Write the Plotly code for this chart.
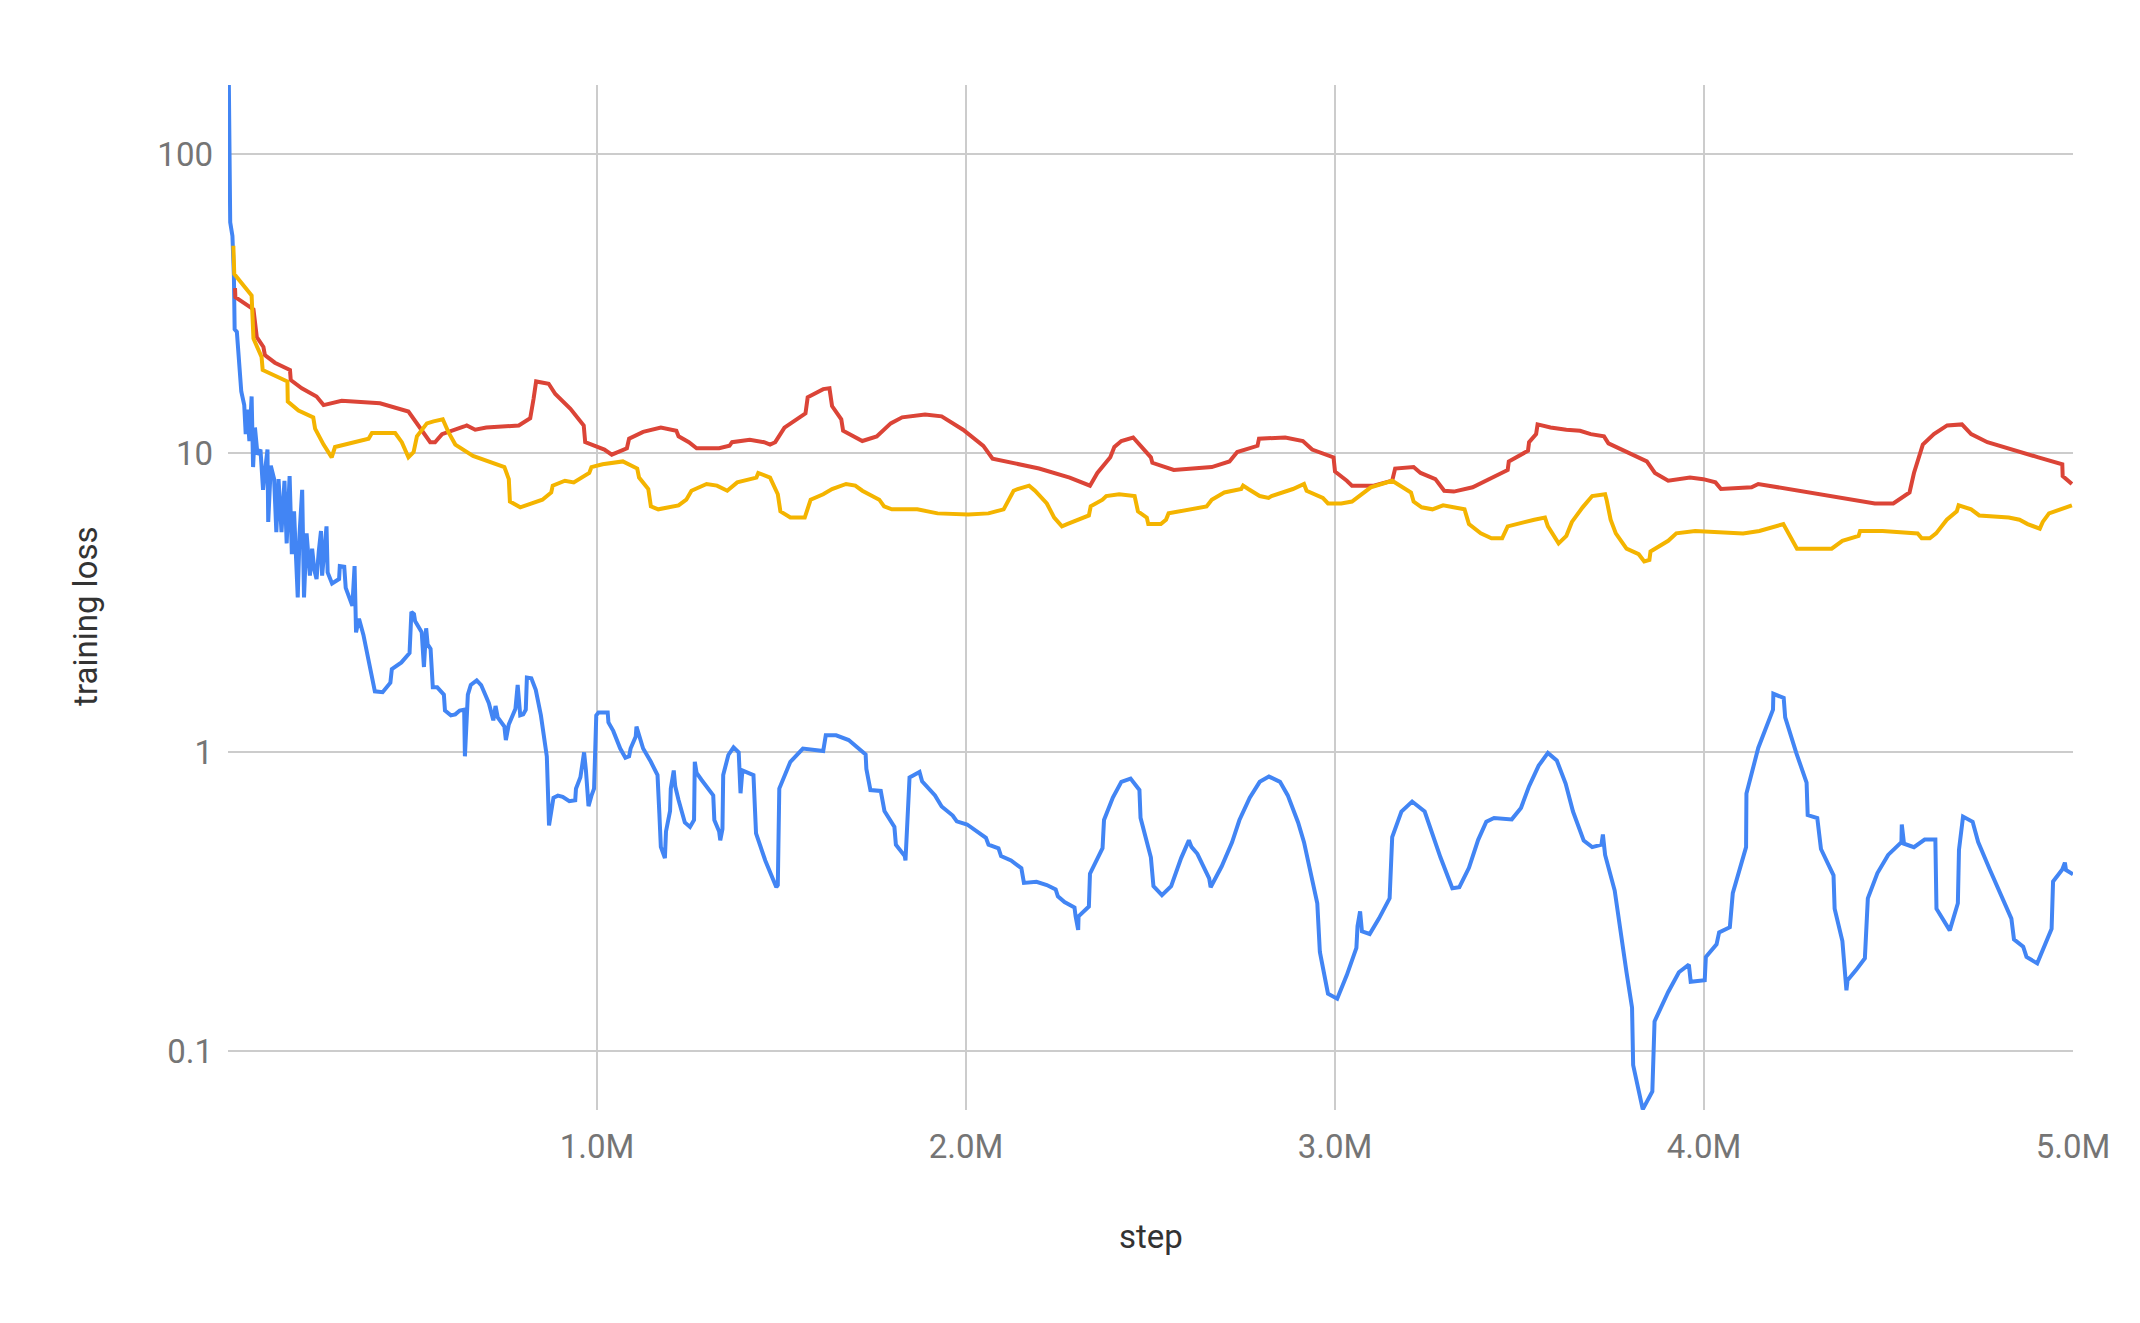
import plotly.graph_objects as go

# ---- data (steps in millions, training loss) ----
blue_step = [0.001, 0.004, 0.006, 0.012, 0.016, 0.018, 0.024, 0.028, 0.036, 0.044, 0.048, 0.052, 0.058, 0.064,
             0.068, 0.073, 0.080, 0.088, 0.095, 0.100, 0.107, 0.109, 0.116, 0.125, 0.131, 0.137, 0.145, 0.153,
             0.159, 0.167, 0.173, 0.179, 0.189, 0.194, 0.201, 0.206, 0.213, 0.222, 0.228, 0.234, 0.240, 0.246,
             0.252, 0.255, 0.267, 0.270, 0.282, 0.301, 0.303, 0.315, 0.319, 0.337, 0.343, 0.347, 0.355, 0.367,
             0.383, 0.392, 0.398, 0.419, 0.440, 0.444, 0.470, 0.492, 0.497, 0.504, 0.507, 0.525, 0.531, 0.537,
             0.541, 0.549, 0.555, 0.567, 0.585, 0.588, 0.604, 0.616, 0.628, 0.640, 0.642, 0.650, 0.658, 0.674,
             0.686, 0.707, 0.719, 0.725, 0.731, 0.749, 0.753, 0.761, 0.779, 0.785, 0.792, 0.800, 0.807, 0.810,
             0.822, 0.834, 0.848, 0.864, 0.867, 0.870, 0.882, 0.894, 0.907, 0.925, 0.941, 0.943, 0.955, 0.965,
             0.970, 0.977, 0.985, 0.992, 0.998, 1.004, 1.029, 1.031, 1.044, 1.063, 1.077, 1.087, 1.091, 1.105,
             1.107, 1.125, 1.146, 1.164, 1.169, 1.173, 1.184, 1.187, 1.198, 1.200, 1.208, 1.212, 1.221, 1.238,
             1.252, 1.263, 1.265, 1.270, 1.283, 1.297, 1.315, 1.318, 1.331, 1.334, 1.340, 1.342, 1.356, 1.370,
             1.384, 1.389, 1.394, 1.424, 1.428, 1.431, 1.456, 1.486, 1.490, 1.494, 1.524, 1.558, 1.613, 1.620,
             1.648, 1.682, 1.728, 1.730, 1.741, 1.769, 1.779, 1.806, 1.810, 1.834, 1.836, 1.843, 1.847, 1.874,
             1.881, 1.916, 1.934, 1.964, 1.975, 2.003, 2.054, 2.061, 2.088, 2.095, 2.122, 2.150, 2.157, 2.191,
             2.219, 2.243, 2.249, 2.267, 2.294, 2.297, 2.304, 2.305, 2.333, 2.336, 2.370, 2.374, 2.398, 2.421,
             2.446, 2.470, 2.473, 2.501, 2.508, 2.531, 2.556, 2.583, 2.604, 2.611, 2.627, 2.659, 2.663, 2.693,
             2.721, 2.741, 2.769, 2.796, 2.821, 2.851, 2.872, 2.900, 2.916, 2.952, 2.959, 2.981, 3.006, 3.032,
             3.058, 3.061, 3.068, 3.073, 3.094, 3.119, 3.148, 3.155, 3.180, 3.209, 3.243, 3.286, 3.318, 3.337,
             3.363, 3.388, 3.410, 3.431, 3.479, 3.504, 3.526, 3.552, 3.577, 3.601, 3.625, 3.645, 3.674, 3.697,
             3.722, 3.726, 3.732, 3.758, 3.773, 3.790, 3.805, 3.808, 3.834, 3.860, 3.866, 3.903, 3.932, 3.959,
             3.964, 4.002, 4.005, 4.034, 4.041, 4.070, 4.078, 4.114, 4.115, 4.147, 4.187, 4.188, 4.216, 4.220,
             4.250, 4.278, 4.281, 4.307, 4.317, 4.351, 4.354, 4.375, 4.386, 4.389, 4.412, 4.436, 4.444, 4.470,
             4.499, 4.535, 4.536, 4.542, 4.569, 4.598, 4.627, 4.630, 4.666, 4.688, 4.691, 4.702, 4.728, 4.743,
             4.775, 4.804, 4.833, 4.840, 4.865, 4.874, 4.903, 4.942, 4.946, 4.971, 4.978, 4.981, 5.000]
blue_loss = [250, 80.5, 59.2, 53.4, 39.2, 26.0, 25.5, 21.9, 16.1, 14.5, 11.6, 14.0, 11.0, 15.5,
             9.0, 12.2, 9.9, 10.3, 7.55, 8.65, 10.3, 5.9, 9.1, 8.2, 5.45, 8.2, 5.45, 8.1,
             5.0, 8.4, 4.6, 6.4, 3.3, 5.4, 7.55, 3.3, 5.4, 3.9, 4.8, 4.07, 3.8, 4.7,
             5.5, 3.9, 5.7, 4.0, 3.67, 3.8, 4.2, 4.18, 3.55, 3.09, 4.2, 2.52, 2.8, 2.47,
             1.96, 1.77, 1.6, 1.59, 1.71, 1.9, 2.0, 2.15, 2.95, 2.9, 2.75, 2.52, 1.93, 2.6,
             2.3, 2.22, 1.65, 1.65, 1.56, 1.38, 1.33, 1.34, 1.38, 1.39, 0.97, 1.56, 1.68, 1.74,
             1.68, 1.46, 1.28, 1.43, 1.31, 1.22, 1.10, 1.24, 1.40, 1.68, 1.33, 1.34, 1.39, 1.78,
             1.77, 1.62, 1.33, 0.97, 0.61, 0.57, 0.705, 0.717, 0.71, 0.687, 0.692, 0.756, 0.826, 1.0,
             0.871, 0.661, 0.717, 0.756, 1.33, 1.36, 1.36, 1.26, 1.18, 1.03, 0.96, 0.97, 1.03, 1.13,
             1.22, 1.03, 0.93, 0.84, 0.625, 0.483, 0.443, 0.544, 0.637, 0.757, 0.87, 0.77, 0.693, 0.583,
             0.563, 0.594, 0.93, 0.853, 0.81, 0.77, 0.718, 0.594, 0.544, 0.508, 0.554, 0.84, 0.98, 1.04,
             1.0, 0.73, 0.87, 0.84, 0.67, 0.536, 0.435, 0.354, 0.36, 0.757, 0.93, 1.03, 1.01, 1.14,
             1.14, 1.10, 0.985, 0.88, 0.748, 0.743, 0.637, 0.563, 0.491, 0.45, 0.435, 0.637, 0.824, 0.86,
             0.80, 0.718, 0.659, 0.615, 0.588, 0.574, 0.518, 0.491, 0.478, 0.45, 0.435, 0.41, 0.366, 0.369,
             0.36, 0.348, 0.33, 0.316, 0.303, 0.283, 0.255, 0.283, 0.305, 0.393, 0.478, 0.594, 0.706, 0.797,
             0.817, 0.748, 0.604, 0.446, 0.357, 0.333, 0.357, 0.443, 0.508, 0.483, 0.458, 0.379, 0.354, 0.416,
             0.50, 0.594, 0.706, 0.797, 0.83, 0.797, 0.718, 0.583, 0.501, 0.313, 0.215, 0.156, 0.15, 0.18,
             0.222, 0.262, 0.294, 0.252, 0.247, 0.278, 0.325, 0.521, 0.634, 0.685, 0.634, 0.445, 0.351, 0.354,
             0.411, 0.51, 0.586, 0.603, 0.597, 0.652, 0.771, 0.903, 0.996, 0.94, 0.787, 0.634, 0.507, 0.482,
             0.491, 0.531, 0.454, 0.345, 0.252, 0.184, 0.14, 0.090, 0.064, 0.0734, 0.126, 0.158, 0.184, 0.195,
             0.171, 0.173, 0.207, 0.228, 0.25, 0.26, 0.338, 0.482, 0.728, 1.035, 1.39, 1.57, 1.52, 1.31,
             0.996, 0.793, 0.617, 0.603, 0.475, 0.388, 0.30, 0.234, 0.16, 0.173, 0.187, 0.205, 0.325, 0.395,
             0.454, 0.501, 0.574, 0.495, 0.482, 0.511, 0.511, 0.30, 0.254, 0.313, 0.472, 0.61, 0.586, 0.501,
             0.404, 0.338, 0.278, 0.237, 0.224, 0.207, 0.197, 0.257, 0.37, 0.406, 0.428, 0.404, 0.391]

red_step = [0.019, 0.020, 0.069, 0.078, 0.096, 0.100, 0.127, 0.168, 0.170, 0.200, 0.240, 0.259, 0.308, 0.412,
            0.489, 0.548, 0.561, 0.580, 0.640, 0.647, 0.670, 0.700, 0.788, 0.819, 0.828, 0.835, 0.869, 0.887,
            0.928, 0.964, 0.968, 1.000, 1.020, 1.040, 1.081, 1.087, 1.125, 1.173, 1.215, 1.221, 1.249, 1.270,
            1.331, 1.359, 1.366, 1.414, 1.453, 1.469, 1.483, 1.508, 1.565, 1.571, 1.613, 1.630, 1.637, 1.662,
            1.667, 1.719, 1.758, 1.796, 1.827, 1.889, 1.934, 1.992, 2.047, 2.072, 2.198, 2.281, 2.336, 2.356,
            2.391, 2.402, 2.421, 2.453, 2.473, 2.501, 2.505, 2.563, 2.666, 2.714, 2.735, 2.790, 2.794, 2.865,
            2.913, 2.938, 2.996, 3.000, 3.032, 3.046, 3.105, 3.155, 3.163, 3.213, 3.232, 3.272, 3.296, 3.322,
            3.373, 3.468, 3.471, 3.523, 3.526, 3.545, 3.549, 3.562, 3.584, 3.627, 3.664, 3.693, 3.729, 3.741,
            3.845, 3.867, 3.903, 3.962, 3.998, 4.031, 4.046, 4.129, 4.136, 4.147, 4.463, 4.513, 4.557, 4.569,
            4.593, 4.623, 4.659, 4.699, 4.724, 4.768, 4.906, 4.971, 4.972, 4.997]
red_loss = [35.7, 33.3, 30.3, 24.5, 22.7, 21.3, 20.1, 19.0, 17.6, 16.5, 15.5, 14.5, 15.0, 14.7,
            13.8, 10.9, 10.9, 11.6, 12.3, 12.4, 12.0, 12.2, 12.4, 13.1, 15.2, 17.4, 17.1, 15.8,
            14.1, 12.4, 10.9, 10.5, 10.3, 9.9, 10.4, 11.2, 11.8, 12.2, 11.9, 11.4, 10.9, 10.4,
            10.4, 10.6, 10.9, 11.1, 10.9, 10.7, 10.9, 12.2, 13.6, 15.4, 16.4, 16.5, 14.4, 13.0,
            11.9, 11.0, 11.4, 12.6, 13.2, 13.5, 13.3, 12.0, 10.6, 9.6, 8.9, 8.3, 7.8, 8.6,
            9.7, 10.5, 11.0, 11.3, 10.6, 9.7, 9.3, 8.8, 9.0, 9.4, 10.1, 10.6, 11.2, 11.3,
            11.0, 10.3, 9.7, 8.7, 8.1, 7.8, 7.8, 8.1, 8.9, 9.0, 8.6, 8.2, 7.5, 7.45,
            7.7, 8.8, 9.4, 10.2, 10.9, 11.6, 12.5, 12.4, 12.2, 12.0, 11.9, 11.6, 11.4, 10.8,
            9.4, 8.6, 8.1, 8.3, 8.2, 8.0, 7.6, 7.7, 7.8, 7.9, 6.8, 6.8, 7.4, 8.6,
            10.7, 11.6, 12.4, 12.5, 11.6, 10.9, 9.7, 9.2, 8.4, 7.9]

yellow_step = [0.0145, 0.017, 0.064, 0.069, 0.091, 0.094, 0.161, 0.162, 0.191, 0.231, 0.236, 0.259, 0.281,
               0.290, 0.381, 0.390, 0.453, 0.471, 0.489, 0.503, 0.512, 0.539, 0.557, 0.582, 0.597, 0.616,
               0.664, 0.749, 0.761, 0.764, 0.792, 0.852, 0.876, 0.880, 0.913, 0.937, 0.979, 0.985, 1.015,
               1.070, 1.109, 1.114, 1.139, 1.146, 1.166, 1.221, 1.242, 1.256, 1.297, 1.325, 1.353, 1.380,
               1.432, 1.437, 1.469, 1.490, 1.497, 1.524, 1.563, 1.579, 1.613, 1.637, 1.675, 1.700, 1.719,
               1.765, 1.778, 1.799, 1.868, 1.923, 2.006, 2.061, 2.102, 2.129, 2.140, 2.171, 2.187, 2.219,
               2.239, 2.260, 2.274, 2.333, 2.338, 2.370, 2.380, 2.415, 2.457, 2.466, 2.490, 2.494, 2.528,
               2.542, 2.549, 2.652, 2.666, 2.700, 2.746, 2.751, 2.765, 2.796, 2.820, 2.828, 2.886, 2.916,
               2.923, 2.967, 2.981, 3.017, 3.046, 3.097, 3.155, 3.206, 3.213, 3.235, 3.264, 3.293, 3.351,
               3.363, 3.395, 3.424, 3.453, 3.468, 3.540, 3.569, 3.577, 3.598, 3.606, 3.627, 3.642, 3.671,
               3.697, 3.732, 3.736, 3.747, 3.761, 3.790, 3.823, 3.838, 3.852, 3.855, 3.903, 3.925, 3.976,
               4.106, 4.150, 4.215, 4.225, 4.240, 4.252, 4.346, 4.375, 4.419, 4.423, 4.484, 4.579, 4.590,
               4.612, 4.629, 4.658, 4.685, 4.690, 4.724, 4.746, 4.826, 4.855, 4.877, 4.910, 4.918, 4.935,
               4.997]
yellow_loss = [49.5, 39.8, 33.7, 24.2, 21.0, 19.0, 17.4, 14.9, 13.9, 13.2, 12.1, 10.7, 9.7,
               10.5, 11.2, 11.7, 11.7, 10.9, 9.7, 10.1, 11.4, 12.6, 12.8, 13.0, 11.8, 10.7,
               9.8, 9.0, 8.2, 6.9, 6.6, 7.0, 7.4, 7.8, 8.1, 8.0, 8.6, 9.0, 9.2,
               9.4, 8.9, 8.3, 7.6, 6.65, 6.5, 6.7, 7.0, 7.5, 7.9, 7.8, 7.5, 8.0,
               8.3, 8.6, 8.3, 7.3, 6.4, 6.1, 6.1, 7.0, 7.3, 7.6, 7.9, 7.8, 7.5,
               7.0, 6.65, 6.5, 6.5, 6.3, 6.25, 6.3, 6.5, 7.5, 7.6, 7.8, 7.5, 6.8,
               6.1, 5.7, 5.8, 6.2, 6.65, 7.0, 7.2, 7.3, 7.2, 6.4, 6.1, 5.8, 5.8,
               6.0, 6.3, 6.65, 7.0, 7.4, 7.6, 7.8, 7.6, 7.2, 7.1, 7.2, 7.6, 7.9,
               7.5, 7.1, 6.8, 6.8, 6.9, 7.7, 8.1, 7.4, 6.9, 6.6, 6.5, 6.7, 6.5,
               5.8, 5.4, 5.2, 5.2, 5.7, 6.0, 6.1, 5.7, 5.2, 5.0, 5.3, 5.9, 6.6,
               7.2, 7.3, 7.0, 6.0, 5.4, 4.8, 4.6, 4.35, 4.4, 4.7, 5.1, 5.4, 5.5,
               5.4, 5.5, 5.8, 5.5, 5.05, 4.8, 4.8, 5.1, 5.3, 5.5, 5.5, 5.4, 5.2,
               5.2, 5.4, 6.0, 6.4, 6.7, 6.5, 6.2, 6.1, 6.0, 5.8, 5.6, 5.9, 6.3,
               6.7]

x_tick_vals = [1e6, 2e6, 3e6, 4e6, 5e6]
x_tick_text = ["1.0M", "2.0M", "3.0M", "4.0M", "5.0M"]
y_tick_vals = [0.1, 1, 10, 100]
y_tick_text = ["0.1", "1", "10", "100"]

M = 1e6
series = [
    (blue_step, blue_loss, "#4285F4"),
    (red_step, red_loss, "#DB4437"),
    (yellow_step, yellow_loss, "#F4B400"),
]

fig = go.Figure()
for steps, loss, color in series:
    fig.add_trace(go.Scatter(
        x=[s * M for s in steps], y=loss, mode="lines",
        line=dict(color=color, width=4), hoverinfo="skip", showlegend=False,
    ))

tick_font = dict(family="Roboto", size=33, color="#757575")
fig.update_layout(
    width=2140, height=1323,
    margin=dict(l=228, r=67, t=85, b=213),
    paper_bgcolor="white", plot_bgcolor="white",
    showlegend=False,
    xaxis=dict(range=[0, 5e6], tickmode="array", tickvals=x_tick_vals, ticktext=x_tick_text,
               showgrid=True, gridcolor="#cccccc", gridwidth=2, zeroline=False, showline=False,
               ticks="", tickfont=tick_font, ticklabelstandoff=14),
    yaxis=dict(type="log", range=[-1.196, 2.232], tickmode="array", tickvals=y_tick_vals,
               ticktext=y_tick_text, showgrid=True, gridcolor="#cccccc", gridwidth=2,
               zeroline=False, showline=False, ticks="", tickfont=tick_font, ticklabelstandoff=14),
    annotations=[
        dict(text="step", xref="paper", yref="paper", x=0.5, y=-0.1239, xanchor="center",
             yanchor="middle", showarrow=False, font=dict(family="Roboto", size=33, color="#333333")),
        dict(text="training loss", xref="paper", yref="paper", x=-0.077, y=0.482, xanchor="center",
             yanchor="middle", textangle=-90, showarrow=False,
             font=dict(family="Roboto", size=33, color="#333333")),
    ],
)

fig.write_html("out.html")
